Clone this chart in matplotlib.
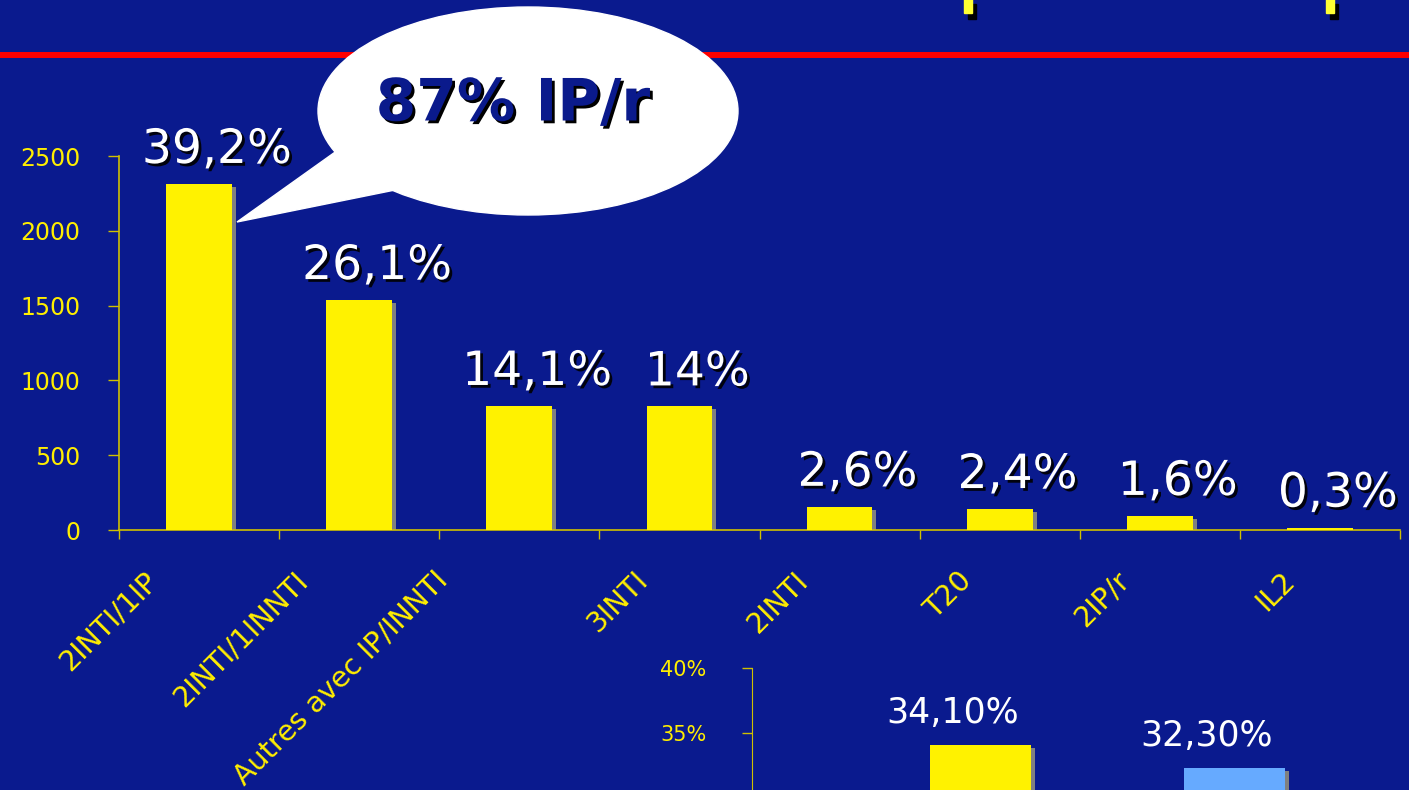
import numpy as np
import matplotlib.pyplot as plt
import matplotlib.patheffects as pe
from matplotlib.patches import Ellipse, Polygon, Rectangle
from matplotlib.lines import Line2D
from matplotlib.textpath import TextPath
from matplotlib.font_manager import FontProperties

# --- Données ---
categories = ['2INTI/1IP', '2INTI/1INNTI', 'Autres avec IP/INNTI', '3INTI',
              '2INTI', 'T20', '2IP/r', 'IL2']
effectifs = [2313, 1537, 829, 826, 155, 140, 94, 16]
parts = [39.2, 26.1, 14.1, 14, 2.6, 2.4, 1.6, 0.3]
yticks_main = [0, 500, 1000, 1500, 2000, 2500]

encart_valeurs = [34.1, 32.3]
encart_couleurs = ['#FFF200', '#66AAFF']
encart_yticks = [35, 40]

bulle_texte = '87% IP/r'

# --- Style ---
W, H, DPI = 1409, 790, 100
FOND = '#0A1A8E'
JAUNE = '#FFF200'
JAUNE_TXT = '#FFEE00'
AXE = '#CFC000'
OMBRE = '#808080'


def fig_xy(x, y):
    """pixels (origine en haut à gauche) -> fraction de figure"""
    return (x / W, 1 - y / H)


fig = plt.figure(figsize=(W / DPI, H / DPI), dpi=DPI)
fig.patch.set_facecolor(FOND)

# ligne rouge du titre + restes du titre en haut
fig.add_artist(Line2D([0, 1], [1 - 55 / H] * 2, transform=fig.transFigure,
                      color='#FF0000', lw=4.3))
for xm in [964, 1326]:
    fig.add_artist(Rectangle(fig_xy(xm + 4, 19), 8 / W, 15 / H,
                             transform=fig.transFigure, color='black'))
    fig.add_artist(Rectangle(fig_xy(xm, 13), 8 / W, 14 / H,
                             transform=fig.transFigure, color='#FFFF33'))

# --- Graphique principal ---
ax = fig.add_axes([119 / W, 1 - 530 / H, (1400 - 119) / W, (530 - 156) / H])
ax.set_facecolor('none')
x = np.arange(len(categories))
larg = 0.41
px_x = (1400 - 119) / len(categories)     # pixels par catégorie
px_y = (530 - 156) / 2500                 # pixels par unité
vals = np.array(effectifs, dtype=float)
ax.bar(x + 4 / px_x, np.maximum(vals - 3 / px_y, 0), larg, color=OMBRE, zorder=2)
ax.bar(x, vals, larg, color=JAUNE, zorder=3)

ax.set_xlim(-0.5, len(categories) - 0.5)
ax.set_ylim(0, 2500)
ax.set_yticks(yticks_main)
ax.set_xticks(np.arange(len(categories) + 1) - 0.5)
ax.set_xticklabels([])
for s in ['top', 'right']:
    ax.spines[s].set_visible(False)
for s in ['left', 'bottom']:
    ax.spines[s].set_color(AXE)
    ax.spines[s].set_linewidth(1.2)
ax.tick_params(axis='y', colors=AXE, labelcolor=JAUNE_TXT, length=8, width=1,
               pad=20, labelsize=17)
ax.tick_params(axis='x', colors=AXE, length=6.5, width=1)

# étiquettes de pourcentage
for i, (v, p) in enumerate(zip(effectifs, parts)):
    lab = f"{p:g}".replace('.', ',') + '%'
    ax.annotate(lab, xy=(i, v), xytext=(18, 21), textcoords='offset pixels',
                ha='center', va='baseline', fontsize=34, color='white', zorder=5,
                path_effects=[pe.withSimplePatchShadow(offset=(2, -2),
                                                       shadow_rgbFace='black',
                                                       alpha=0.9)])

# étiquettes de catégories inclinées
fp = FontProperties(family='DejaVu Sans', size=20.5)
for i, lab in enumerate(categories):
    L = TextPath((0, 0), lab, size=20.5, prop=fp).get_extents().width * DPI / 72
    dx = -22 - 0.19 * L
    ax.annotate(lab, xy=(i, 0), xytext=(dx, -46), textcoords='offset pixels',
                rotation=45, rotation_mode='anchor', ha='right', va='center',
                fontproperties=fp, color=JAUNE_TXT, annotation_clip=False)

# --- Bulle ---
fig.add_artist(Ellipse(fig_xy(528, 111), 420 / W, 208 / H,
                       transform=fig.transFigure, color='white', zorder=3))
fig.add_artist(Polygon([fig_xy(338, 150), fig_xy(237, 222), fig_xy(395, 190)],
                       closed=True, transform=fig.transFigure, color='white',
                       zorder=3))
fig.text(*fig_xy(513, 104), bulle_texte, ha='center', va='center', fontsize=42,
         weight='bold', color='#0A1A8C', zorder=4,
         path_effects=[pe.withSimplePatchShadow(offset=(2, -2),
                                                shadow_rgbFace='black', alpha=1)])

# --- Encart (coupé en bas) ---
ax2 = fig.add_axes([752 / W, 1 - 863 / H, 635 / W, 195 / H])
ax2.set_facecolor('none')
x2 = np.arange(len(encart_valeurs))
px2_x, px2_y = 254, 13
ev = np.array(encart_valeurs)
ax2.bar(x2 + 4 / px2_x, ev - 3 / px2_y, 0.4, color=OMBRE, zorder=2)
ax2.bar(x2, ev, 0.4, color=encart_couleurs, zorder=3)
ax2.set_xlim(-0.9, 1.6)
ax2.set_ylim(25, 40)
ax2.set_yticks(encart_yticks)
ax2.set_yticklabels([f"{t}%" for t in encart_yticks])
ax2.set_xticks([])
for s in ['top', 'right', 'bottom']:
    ax2.spines[s].set_visible(False)
ax2.spines['left'].set_color(AXE)
ax2.tick_params(axis='y', colors=AXE, labelcolor=JAUNE_TXT, length=7, width=1,
                pad=26, labelsize=15)
for i, v in enumerate(encart_valeurs):
    lab = f"{v:.2f}".replace('.', ',') + '%'
    ax2.annotate(lab, xy=(i, v), xytext=(-28, 22), textcoords='offset pixels',
                 ha='center', va='baseline', fontsize=25, color='white')

fig.savefig('out.png', dpi=DPI, facecolor=FOND)
